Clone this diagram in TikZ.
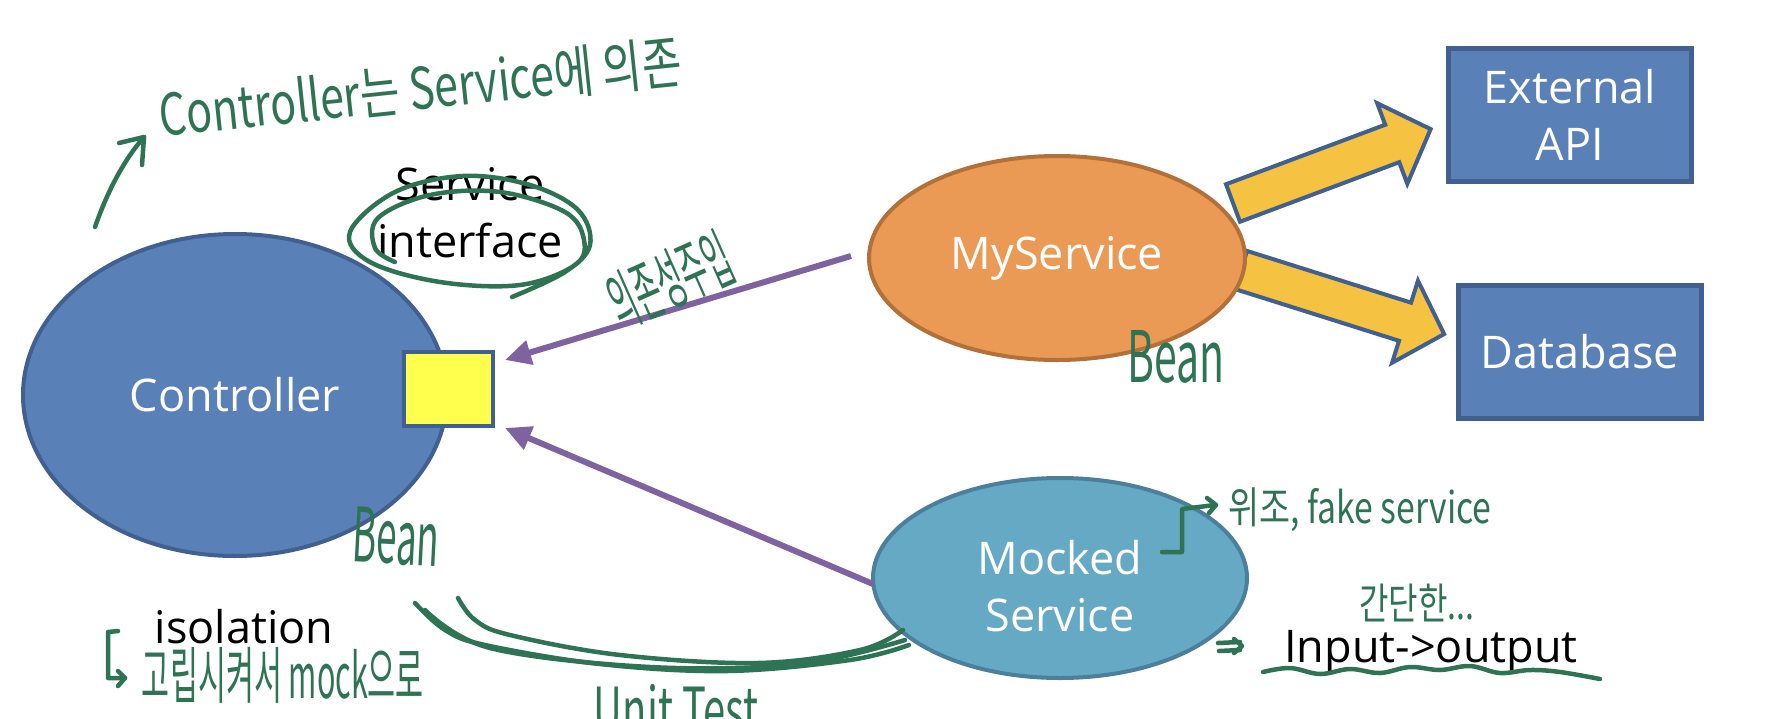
\documentclass[tikz,border=0pt]{standalone}
\usepackage{fontspec}
\usepackage{graphicx}
\setmainfont{Open Sans}
\newfontfamily\kr{Noto Sans CJK KR}
\usetikzlibrary{arrows.meta,shapes.geometric}
\definecolor{cblue}{RGB}{90,128,184}
\definecolor{cblueb}{RGB}{65,96,143}
\definecolor{corange}{RGB}{234,154,85}
\definecolor{corangeb}{RGB}{178,112,58}
\definecolor{cteal}{RGB}{102,169,196}
\definecolor{ctealb}{RGB}{76,127,153}
\definecolor{cyel}{RGB}{245,194,66}
\definecolor{csq}{RGB}{255,255,77}
\definecolor{cpurp}{RGB}{127,99,161}
\definecolor{penc}{RGB}{47,115,85}
\newcommand{\hw}[3]{\resizebox*{#1pt}{#2pt}{\kr #3}}
\begin{document}
\begin{tikzpicture}[x=1pt,y=-1pt,
  every node/.style={inner sep=0pt, outer sep=0pt},
  big/.style={font=\fontsize{45}{57}\selectfont, align=center},
  ell/.style={ellipse, big, text=white, line width=4pt},
  box/.style={rectangle, big, text=white, fill=cblue, draw=cblueb, line width=5pt},
  purp/.style={draw=cpurp, line width=6pt, -{Triangle[length=26pt,width=24pt]}},
  yarrow/.style={fill=cyel, draw=cblueb, line width=4pt, line join=miter},
  ink/.style={draw=penc, line width=4.5pt, line cap=round, line join=round},
  hand/.style={text=penc}]
\fill[white] (0,0) rectangle (1774,718);
\useasboundingbox (0,0) rectangle (1774,718);

% yellow arrows
\begin{scope}[shift={(1233,203)}, rotate=20.5]
  \draw[yarrow] (0,-20)--(170,-20)--(170,-43)--(211,0)--(170,43)--(170,20)--(0,20)--cycle;
\end{scope}
\begin{scope}[shift={(1241,270)}, rotate=-17.5]
  \draw[yarrow] (0,-20)--(172,-20)--(172,-43)--(213,0)--(172,43)--(172,20)--(0,20)--cycle;
\end{scope}

% main shapes
\node[ell, fill=cblue, draw=cblueb, minimum width=424pt, minimum height=322pt] (ctrl) at (235,395) {Controller};
\node[ell, fill=corange, draw=corangeb, minimum width=376pt, minimum height=204pt] (mysvc) at (1057,258) {MyService};
\node[ell, fill=cteal, draw=ctealb, minimum width=374pt, minimum height=200pt] (mock) at (1060,578) {};
\node[big, text=white] (mocktxt) at (1060,586) {Mocked\\Service};
\node[draw=cblueb, fill=csq, line width=4pt, minimum width=89pt, minimum height=74pt] (iface) at (448.5,389) {};
\node[box, minimum width=243pt, minimum height=133pt] (ext) at (1570,115) {External\\API};
\node[box, minimum width=243pt, minimum height=133pt] (db) at (1580,352) {Database};

% purple arrows
\coordinate (a1s) at (851,256);
\coordinate (a1e) at (505,360);
\coordinate (a2s) at (873,584);
\coordinate (a2e) at (505,428);
\draw[purp] (a1s) -- (a1e);
\draw[purp] (a2s) -- (a2e);

% black texts
\node[big, text=black] (sitxt) at (470,213) {Service\\interface};
\node[big, text=black, anchor=base] (iso) at (244,643) {isolation};
\node[big, text=black, anchor=base] (io) at (1431,662) {Input->output};

% handwritten annotations
\node[hand, rotate=6] (h1) at (420,88) {\hw{525}{52}{Controller는 Service에 의존}};
\node[hand, rotate=24] (h2) at (670,280) {\hw{128}{60}{의존성주입}};
\node[hand] (h3) at (1176,357) {\hw{97}{53}{Bean}};
\node[hand, rotate=-3] (h4) at (396,537) {\hw{87}{56}{Bean}};
\node[hand] (h5) at (1360,510) {\hw{263}{44}{위조, fake service}};
\node[hand] (h6) at (1417,603) {\hw{115}{38}{간단한...}};
\node[hand] (h7) at (283,675) {\hw{282}{56}{고립시켜서 mock으로}};
\node[hand] (h8) at (676,709) {\hw{164}{50}{Unit Test}};

% pen strokes
\draw[ink] (95,227) .. controls (108,190) and (124,160) .. (144,137);
\draw[ink] (119,143) -- (144,137) -- (142,165);
\draw[ink] plot[smooth, tension=0.6] coordinates {(512,297) (565,272) (590,245) (578,210) (530,185) (463,176) (395,192) (350,232) (370,262) (440,282) (520,285) (575,265) (584,240) (565,212) (500,192) (430,195) (378,218) (375,248) (395,262)};
\draw[ink] plot[smooth, tension=0.6] coordinates {(415,603) (445,630) (485,645) (600,664) (727,671) (850,660) (909,645)};
\draw[ink] plot[smooth, tension=0.6] coordinates {(458,598) (475,620) (510,635) (620,655) (758,663) (860,650) (903,630)};
\draw[ink] plot[smooth, tension=0.6] coordinates {(425,610) (490,648) (650,667) (800,664) (905,640)};
\draw[ink] (118,631) -- (108,632) -- (108,678) -- (125,678);
\draw[ink] (118,671) -- (125,678) -- (118,686);
\draw[ink] (1162,552) -- (1182,552) -- (1182,509) -- (1215,505);
\draw[ink] (1207,498) -- (1216,505) -- (1209,513);
\draw[ink] (1218,643) -- (1240,642);
\draw[ink] (1219,651) -- (1240,650);
\draw[ink] (1234,639) -- (1242,646) -- (1234,653);
\draw[ink] plot[smooth, tension=0.6] coordinates {(1263,672) (1290,668) (1320,674) (1350,669) (1380,673) (1410,667) (1440,670) (1470,666) (1500,673) (1530,670) (1560,672) (1600,679)};
\end{tikzpicture}
\end{document}
